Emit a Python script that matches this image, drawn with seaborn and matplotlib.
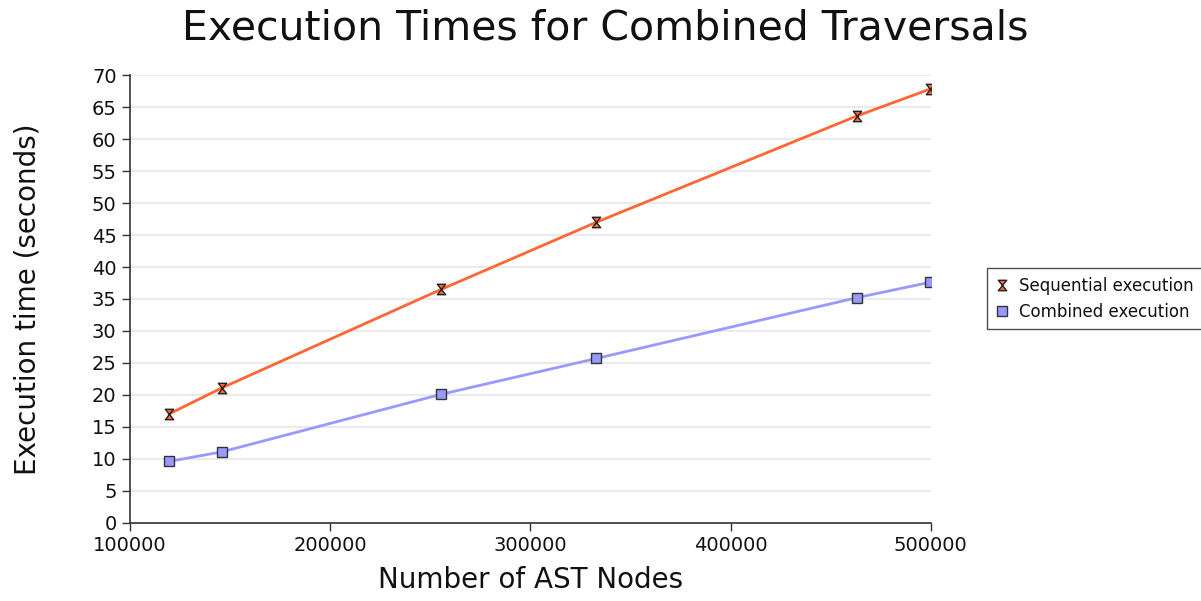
import pandas as pd
import matplotlib
matplotlib.use("Agg")
import matplotlib.pyplot as plt
import seaborn as sns
from matplotlib.path import Path

# data
ast_nodes = [119500, 146000, 255500, 333000, 463000, 499500]
sequential_times = [17.0, 21.1, 36.5, 47.0, 63.6, 67.8]
combined_times = [9.6, 11.1, 20.1, 25.7, 35.2, 37.6]

df_seq = pd.DataFrame({"nodes": ast_nodes, "time": sequential_times})
df_comb = pd.DataFrame({"nodes": ast_nodes, "time": combined_times})

sns.set_theme(style="white")
plt.rcParams['font.family'] = ['DejaVu Sans']
plt.rcParams['text.color'] = "#111111"
plt.rcParams['axes.labelcolor'] = "#111111"

# hourglass marker (error-bar look)
hourglass = Path([(-0.8, 1), (0.8, 1), (-0.8, -1), (0.8, -1), (-0.8, 1)],
                 [Path.MOVETO, Path.LINETO, Path.LINETO, Path.LINETO, Path.CLOSEPOLY])

fig, ax = plt.subplots(figsize=(12.01, 6.01), dpi=100)
fig.subplots_adjust(left=0.108, right=0.775, top=0.875, bottom=0.13)

sns.lineplot(data=df_seq, x="nodes", y="time", ax=ax, color="#ff6633", lw=2,
             marker=hourglass, markersize=7.5, markerfacecolor="#ff6633",
             markeredgecolor="#222222", markeredgewidth=1,
             label="Sequential execution")
sns.lineplot(data=df_comb, x="nodes", y="time", ax=ax, color="#9999ff", lw=2,
             marker="s", markersize=7, markerfacecolor="#9999ff",
             markeredgecolor="#333333", markeredgewidth=1,
             label="Combined execution")

ax.set_xlim(100000, 500000)
ax.set_ylim(0, 70)
ax.set_xticks([100000, 200000, 300000, 400000, 500000])
ax.set_yticks(range(0, 71, 5))
ax.yaxis.grid(True, color="#e6e6e6", lw=1.2)
ax.set_axisbelow(True)
for s in ["top", "right"]:
    ax.spines[s].set_visible(False)
for s in ["left", "bottom"]:
    ax.spines[s].set_color("#333333")
    ax.spines[s].set_linewidth(1.2)
ax.tick_params(axis="both", direction="out", length=6, width=1, color="#333333",
               labelsize=14, labelcolor="#111111", bottom=True, left=True)

fig.suptitle("Execution Times for Combined Traversals", fontsize=29.5,
             x=0.504, y=0.953, va="center")
ax.set_xlabel("Number of AST Nodes", fontsize=20, labelpad=8)
ax.set_ylabel("Execution time (seconds)", fontsize=20, labelpad=36)

leg = ax.legend(loc="center left", bbox_to_anchor=(1.06, 0.5), fontsize=12,
                frameon=True, fancybox=False, handlelength=0.8, handletextpad=0.6,
                borderpad=0.5, labelspacing=0.5)
leg.get_frame().set_edgecolor("#222222")
leg.get_frame().set_linewidth(1)
for h in leg.get_lines():
    h.set_linestyle("none")

fig.savefig("out.png", dpi=100)
